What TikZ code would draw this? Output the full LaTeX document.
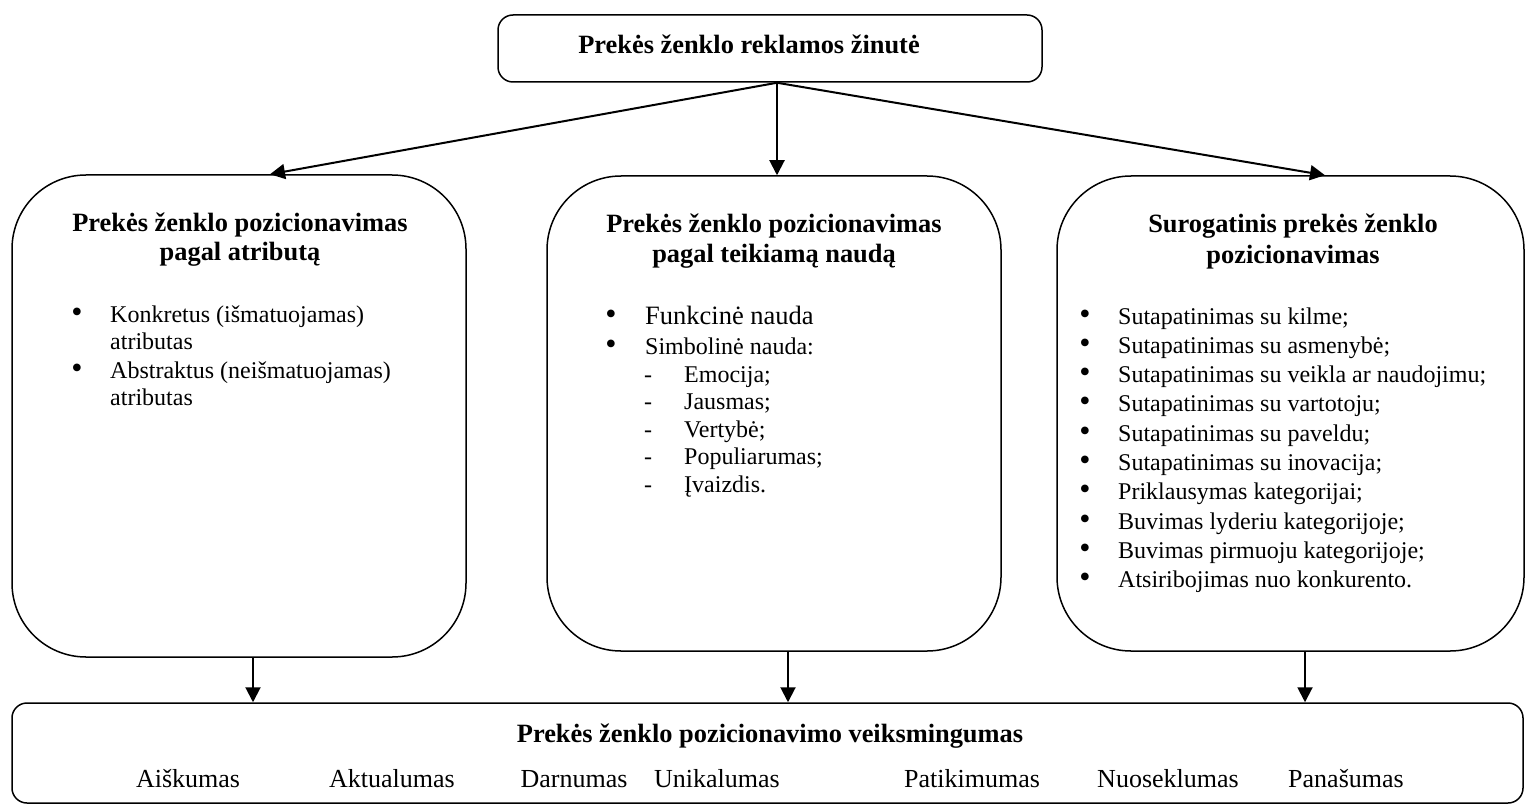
\documentclass[tikz,border=0pt]{standalone}
\usepackage{fontspec}
\setmainfont{Liberation Serif}
\usetikzlibrary{arrows.meta}
\begin{document}
\begin{tikzpicture}[x=1pt,y=-1pt,
  bigbox/.style={draw, line width=1.5pt, rounded corners=74pt, inner sep=0pt},
  smallbox/.style={draw, line width=1.5pt, rounded corners=15pt, inner sep=0pt},
  arr/.style={line width=2pt, -{Triangle[length=15pt,width=15pt]}},
  ttl/.style={anchor=base, inner sep=0pt, font=\fontsize{26.4}{30}\selectfont\bfseries},
  itm/.style={anchor=base west, inner sep=0pt, font=\fontsize{24}{28}\selectfont},
  bul/.style={anchor=base, inner sep=0pt, font=\fontsize{32}{32}\selectfont},
  dsh/.style={anchor=base, inner sep=0pt, font=\fontsize{24}{28}\selectfont},
  bot/.style={anchor=base, inner sep=0pt, font=\fontsize{26}{30}\selectfont}]
\useasboundingbox (0,0) rectangle (1525,805);

% boxes
\node[smallbox, minimum width=544pt, minimum height=67pt] (T) at (770,48.5) {};
\node[bigbox, minimum width=454pt, minimum height=482pt] (L) at (239,416) {};
\node[bigbox, minimum width=454pt, minimum height=475pt] (M) at (774,413.5) {};
\node[bigbox, minimum width=467pt, minimum height=475pt] (R) at (1290.5,413.5) {};
\node[smallbox, minimum width=1511pt, minimum height=100pt] (B) at (767.5,753) {};

% top title
\node[ttl] (Tt) at (749,54) {Prekės ženklo reklamos žinutė};

% left box
\node[ttl] (Lt1) at (240,231) {Prekės ženklo pozicionavimas};
\node[ttl] (Lt2) at (240,260) {pagal atributą};
\node[bul] (Lb1) at (77,322) {\textbullet};
\node[itm] (Li1) at (110,322) {Konkretus (išmatuojamas)};
\node[itm] (Li2) at (110,349) {atributas};
\node[bul] (Lb2) at (77,378) {\textbullet};
\node[itm] (Li3) at (110,378) {Abstraktus (neišmatuojamas)};
\node[itm] (Li4) at (110,405) {atributas};

% middle box
\node[ttl] (Mt1) at (774,232) {Prekės ženklo pozicionavimas};
\node[ttl] (Mt2) at (774,262) {pagal teikiamą naudą};
\node[bul] (Mb1) at (611,324) {\textbullet};
\node[itm, font=\fontsize{26.5}{30}\selectfont] (Mi1) at (645,324) {Funkcinė nauda};
\node[bul] (Mb2) at (611,354) {\textbullet};
\node[itm] (Mi2) at (645,354) {Simbolinė nauda:};
\foreach \t/\yy [count=\i] in {Emocija;/382, Jausmas;/409, Vertybė;/437, Populiarumas;/464, Įvaizdis./492}{
  \node[dsh] (Md\i) at (648,\yy) {-};
  \node[itm] (Ms\i) at (684,\yy) {\t};
}

% right box
\node[ttl] (Rt1) at (1293,233) {Surogatinis prekės ženklo};
\node[ttl] (Rt2) at (1293,263) {pozicionavimas};
\foreach \t [count=\i] in {{Sutapatinimas su kilme;},{Sutapatinimas su asmenybė;},{Sutapatinimas su veikla ar naudojimu;},{Sutapatinimas su vartotoju;},{Sutapatinimas su paveldu;},{Sutapatinimas su inovacija;},{Priklausymas kategorijai;},{Buvimas lyderiu kategorijoje;},{Buvimas pirmuoju kategorijoje;},{Atsiribojimas nuo konkurento.}}{
  \node[bul] (Rb\i) at (1085,{324+29.33*(\i-1)}) {\textbullet};
  \node[itm] (Ri\i) at (1118,{324+29.33*(\i-1)}) {\t};
}

% bottom box
\node[ttl] (Bt) at (770,742) {Prekės ženklo pozicionavimo veiksmingumas};
\foreach \t/\xx [count=\i] in {Aiškumas/188, Aktualumas/392, Darnumas/574, Unikalumas/717, Patikimumas/972, Nuoseklumas/1168, Panašumas/1346}{
  \node[bot] (Bi\i) at (\xx,787) {\t};
}

% connectors
\draw[arr] ([xshift=7pt]T.south) -- ([xshift=31pt]L.north);
\draw[arr] ([xshift=7pt]T.south) -- ([xshift=3pt]M.north);
\draw[arr] ([xshift=7pt]T.south) -- ([xshift=34.5pt]R.north);
\draw[arr] ([xshift=14pt]L.south) -- ([xshift=14pt]L.south |- B.north);
\draw[arr] ([xshift=14pt]M.south) -- ([xshift=14pt]M.south |- B.north);
\draw[arr] ([xshift=14.5pt]R.south) -- ([xshift=14.5pt]R.south |- B.north);
\end{tikzpicture}
\end{document}
